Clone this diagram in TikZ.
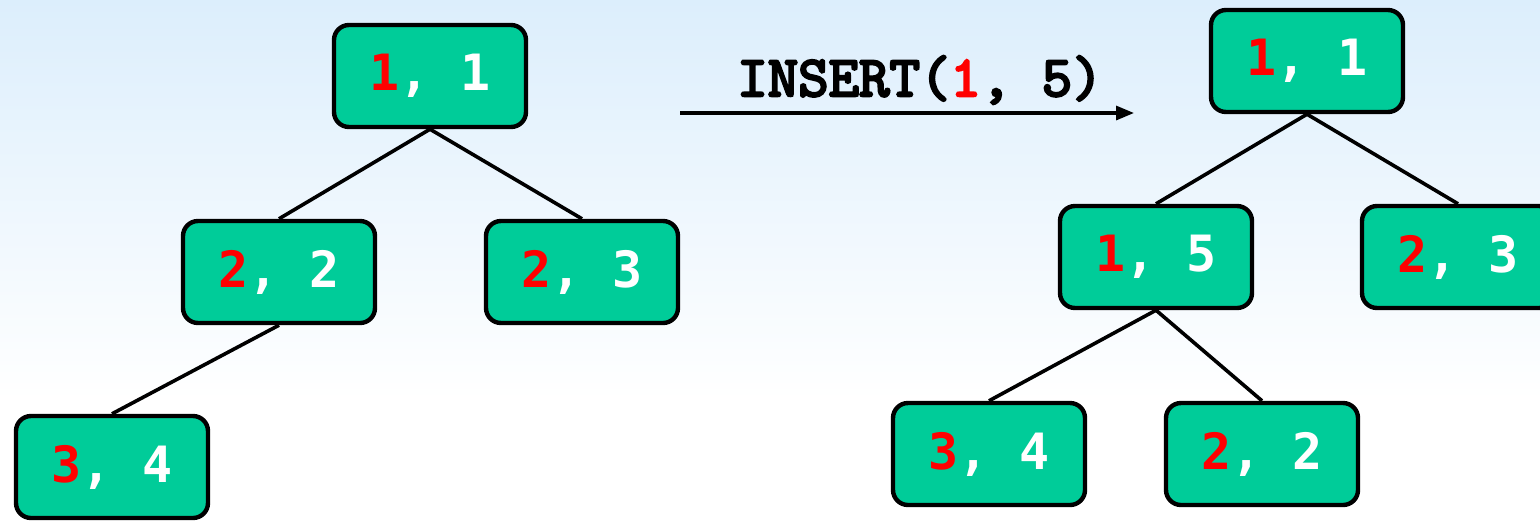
\documentclass[tikz,border=0pt]{standalone}
\usepackage{fontspec}
\usepackage{xcolor}
\usepackage{tikz}
\usetikzlibrary{arrows.meta}
\newfontfamily\pairfont{DejaVu Sans Mono}
\newfontfamily\opfont{lmmono10-regular.otf}[FakeBold=4]
\definecolor{skytop}{RGB}{220,238,252}
\definecolor{boxgreen}{RGB}{0,204,153}
\tikzset{
    treenode/.style = {align=center, inner sep=0pt, text centered},
    pair_node/.style = {treenode, rectangle, rounded corners=7.5pt, white, draw=black, fill=boxgreen, line width=2.2pt, minimum width=96pt, minimum height=51pt, font=\pairfont\bfseries\fontsize{25}{25}\selectfont},
    op_label/.style = {treenode, black, font=\opfont\fontsize{29}{29}\selectfont},
    tree_edge/.style = {line width=1.8pt, black}
}
\newcommand{\keyval}[2]{\textcolor{red}{#1}, #2}

\begin{document}
\begin{tikzpicture}[x=0.5pt, y=-0.5pt]
                    \useasboundingbox (0,0) rectangle (1540,521);
                    \shade [top color=skytop, bottom color=white] (0,0) rectangle (1540,400);
                    \fill [white] (0,400) rectangle (1540,521);
                    \node [pair_node] (lroot) at (430,76) {\keyval{1}{1}};
                    \node [pair_node] (lleft) at (279,272) {\keyval{2}{2}};
                    \node [pair_node] (lright) at (582,272) {\keyval{2}{3}};
                    \node [pair_node] (lleaf) at (112,467) {\keyval{3}{4}};
                    \draw [tree_edge] (lroot.south) -- (lleft.north);
                    \draw [tree_edge] (lroot.south) -- (lright.north);
                    \draw [tree_edge] (lleft.south) -- (lleaf.north);
                    \node [pair_node] (rroot) at (1307,61) {\keyval{1}{1}};
                    \node [pair_node] (rleft) at (1156,257) {\keyval{1}{5}};
                    \node [pair_node] (rright) at (1458,257) {\keyval{2}{3}};
                    \node [pair_node] (rleafa) at (989,454) {\keyval{3}{4}};
                    \node [pair_node] (rleafb) at (1262,454) {\keyval{2}{2}};
                    \draw [tree_edge] (rroot.south) -- (rleft.north);
                    \draw [tree_edge] (rroot.south) -- (rright.north);
                    \draw [tree_edge] (rleft.south) -- (rleafa.north);
                    \draw [tree_edge] (rleft.south) -- (rleafb.north);
                    \coordinate (opstart) at (680,113);
                    \coordinate (opend) at (1134,113);
                    \draw [-{Triangle[length=9pt,width=7pt]}, line width=1.6pt] (opstart) -- (opend);
                    \node [op_label] (op) at (920,80) {INSERT(\textcolor{red}{1}, 5)};
                \end{tikzpicture}
\end{document}
